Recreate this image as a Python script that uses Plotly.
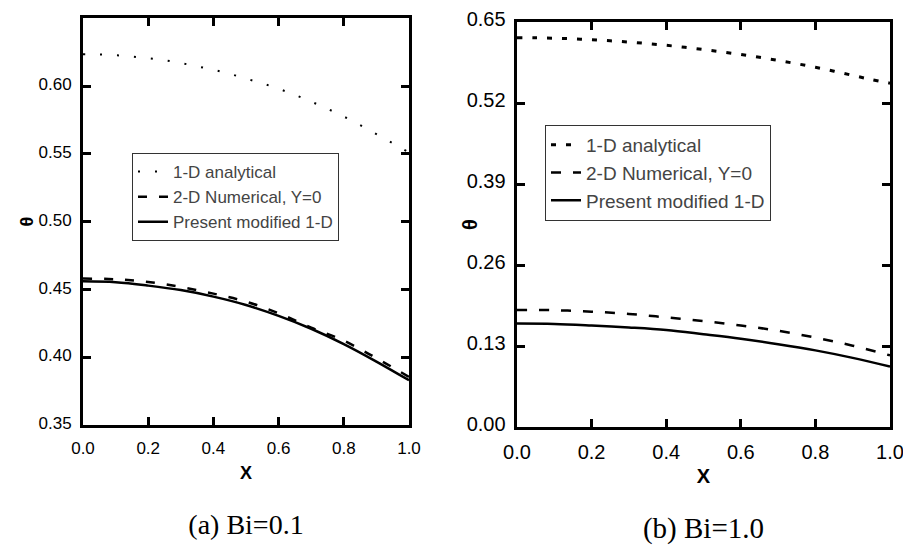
import plotly.graph_objects as go

# ---------------- data ----------------
x_fine = [0.0, 0.05, 0.1, 0.15, 0.2, 0.25, 0.3, 0.35, 0.4, 0.45, 0.5,
          0.55, 0.6, 0.65, 0.7, 0.75, 0.8, 0.85, 0.9, 0.95, 1.0]
x_coarse = [0.0, 0.1, 0.2, 0.3, 0.4, 0.5, 0.6, 0.7, 0.8, 0.9, 1.0]

# (a) Bi = 0.1
a_analytical = [0.6235, 0.6233, 0.6228, 0.6218, 0.6205, 0.6190, 0.6170, 0.6145, 0.6120, 0.6090, 0.6055,
                0.6020, 0.5980, 0.5935, 0.5885, 0.5832, 0.5775, 0.5712, 0.5645, 0.5578, 0.5510]
a_numerical = [0.4580, 0.4575, 0.4555, 0.4518, 0.4469, 0.4410, 0.4324, 0.4218, 0.4122, 0.3993, 0.3855]
a_modified = [0.4560, 0.4553, 0.4528, 0.4495, 0.4447, 0.4385, 0.4305, 0.4210, 0.4097, 0.3968, 0.3830]

# (b) Bi = 1.0
b_analytical = [0.6250, 0.6248, 0.6242, 0.6232, 0.6218, 0.6200, 0.6180, 0.6155, 0.6128, 0.6095, 0.6060,
                0.6022, 0.5980, 0.5935, 0.5885, 0.5832, 0.5775, 0.5712, 0.5645, 0.5578, 0.5520]
b_numerical = [0.1880, 0.1875, 0.1852, 0.1815, 0.1760, 0.1700, 0.1630, 0.1545, 0.1435, 0.1305, 0.1150]
b_modified = [0.1660, 0.1655, 0.1630, 0.1598, 0.1557, 0.1490, 0.1418, 0.1330, 0.1230, 0.1110, 0.0970]

# tick labels
x_ticks = [0.0, 0.2, 0.4, 0.6, 0.8, 1.0]
x_ticktext = ["0.0", "0.2", "0.4", "0.6", "0.8", "1.0"]
a_yticks = [0.35, 0.40, 0.45, 0.50, 0.55, 0.60, 0.65]
a_yticktext = ["0.35", "0.40", "0.45", "0.50", "0.55", "0.60", "0.65"]
b_yticks = [0.0, 0.13, 0.26, 0.39, 0.52, 0.65]
b_yticktext = ["0.00", "0.13", "0.26", "0.39", "0.52", "0.65"]

names = ["1-D analytical", "2-D Numerical, Y=0", "Present modified 1-D"]
captions = ["(a) Bi=0.1", "(b) Bi=1.0"]

SANS = "Liberation Sans, Arial, sans-serif"
OFF = 8                      # page body margin
W, H = 911 - OFF, 553 - OFF


def fx(px):
    return (px - OFF) / W


def fy(py):
    return 1 - (py - OFF) / H


def styled(text, size, family="Liberation Sans", bold=False):
    t = "<b>%s</b>" % text if bold else text
    return "<span style='font-family:%s;font-size:%dpx;color:#000'>%s</span>" % (family, size, t)


fig = go.Figure()
for xs, ys, nm, ln, xa, ya, lg in [
    (x_fine, a_analytical, names[0], dict(width=2, dash="2px,15px"), "x", "y", "legend"),
    (x_coarse, a_numerical, names[1], dict(width=2.5, dash="9px,12px"), "x", "y", "legend"),
    (x_coarse, a_modified, names[2], dict(width=2.5), "x", "y", "legend"),
    (x_fine, b_analytical, names[0], dict(width=3, dash="5px,10px"), "x2", "y2", "legend2"),
    (x_coarse, b_numerical, names[1], dict(width=2.5, dash="10px,12px"), "x2", "y2", "legend2"),
    (x_coarse, b_modified, names[2], dict(width=2.5), "x2", "y2", "legend2"),
]:
    fig.add_trace(go.Scatter(x=xs, y=ys, name=nm, mode="lines",
                             line=dict(color="black", shape="spline", **ln),
                             xaxis=xa, yaxis=ya, legend=lg))

base = dict(showline=True, linecolor="black", linewidth=3, mirror="allticks",
            ticks="inside", ticklen=8, tickwidth=2.5, tickcolor="black",
            showgrid=False, zeroline=False)


def x_title(cap, xsize, capsize):
    return styled("X", xsize, bold=True) + "<br><br><br>" + styled(cap, capsize, family="Liberation Serif")


fig.update_layout(
    template="none",
    width=W, height=H,
    margin=dict(l=0, r=0, t=0, b=0, autoexpand=False),
    xaxis=dict(domain=[fx(83), fx(409)], range=[0, 1], anchor="y",
               tickvals=x_ticks, ticktext=[styled(t, 17) for t in x_ticktext],
               ticklabelstandoff=12,
               title=dict(text=x_title(captions[0], 18, 28)),
               **base),
    yaxis=dict(domain=[fy(425), fy(18)], range=[0.35, 0.6502], anchor="x",
               tickvals=a_yticks, ticktext=[styled(t, 17) for t in a_yticktext],
               ticklabelstandoff=6,
               title=dict(text=styled("θ", 18, bold=True)),
               **base),
    xaxis2=dict(domain=[fx(517), fx(890)], range=[0, 1], anchor="y2",
                tickvals=x_ticks, ticktext=[styled(t, 20) for t in x_ticktext],
                ticklabelstandoff=15,
                title=dict(text=x_title(captions[1], 20, 29)),
                **base),
    yaxis2=dict(domain=[fy(427), fy(22)], range=[0, 0.6502], anchor="x2",
                tickvals=b_yticks, ticktext=[styled(t, 20) for t in b_yticktext],
                ticklabelstandoff=6,
                title=dict(text=styled("θ", 20, bold=True)),
                **base),
    legend=dict(x=fx(132), y=fy(153), xanchor="left", yanchor="top",
                bordercolor="#333", borderwidth=1, font=dict(family=SANS, size=17)),
    legend2=dict(x=fx(545), y=fy(125), xanchor="left", yanchor="top",
                 bordercolor="#333", borderwidth=1, font=dict(family=SANS, size=19)),
)

fig.write_html("out.html")
